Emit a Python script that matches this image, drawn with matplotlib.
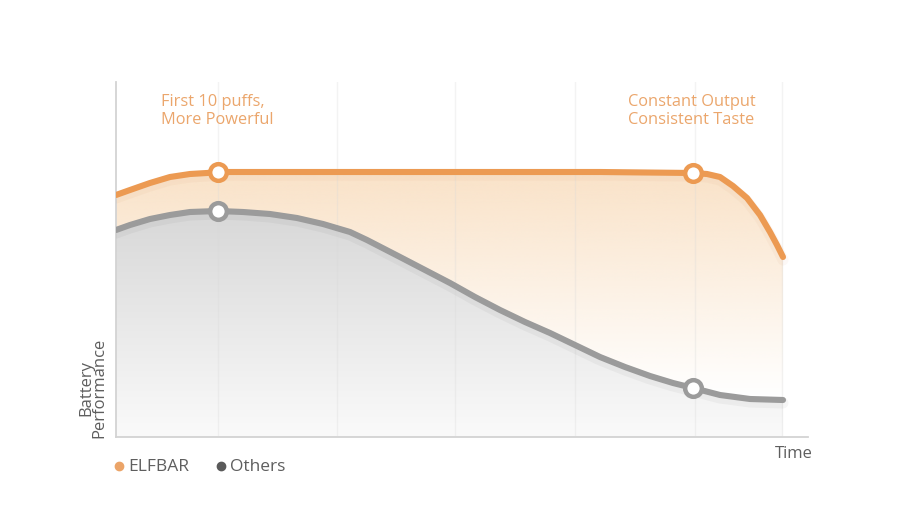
import numpy as np
import matplotlib
matplotlib.use("Agg")
import matplotlib.pyplot as plt
from matplotlib.colors import to_rgb

plt.rcParams["font.family"] = ["Open Sans", "DejaVu Sans"]

# time axis (arbitrary units) and performance readings
elfbar_t = [0, 14, 34, 54, 74, 91, 102, 184, 284, 384, 484, 577, 591, 604,
            617, 631, 644, 654, 661, 667]
elfbar_p = [242, 247, 254, 260, 263, 264, 265, 265, 265, 265, 265, 264, 263,
            260, 251, 239, 222, 205, 192, 180]
others_t = [0, 14, 34, 54, 74, 102, 127, 154, 181, 207, 234, 251, 284, 309,
            334, 359, 384, 409, 434, 459, 484, 509, 534, 557, 577, 604, 634, 667]
others_p = [207, 212, 218, 222, 225, 226, 225, 223, 219, 213, 205, 197, 180,
            167, 154, 140, 127, 115, 104, 92, 80, 70, 61, 54, 49, 42, 38, 37]

# highlighted points
elfbar_mark_t = [102, 577]
elfbar_mark_p = [265, 264]
others_mark_t = [102, 577]
others_mark_p = [226, 49]

grid_t = [102, 221, 339, 459, 579, 666]

notes = ["First 10 puffs,\nMore Powerful", "Constant Output\nConsistent Taste"]
note_t = [45, 512]

ORANGE = "#ec9a52"
GREY = "#9b9b9b"
NOTE = "#eba66c"
TXT = "#5e5e5e"

fig = plt.figure(figsize=(9.09, 5.26), dpi=100)
ax = fig.add_axes([116 / 909, 89 / 526, 692 / 909, 355 / 526])
ax.set_xlim(0, 692)
ax.set_ylim(0, 355)


def gradient_fill(t, p, top_rgba, bot_rgba, y0, y1, z):
    poly = ax.fill_between(t, 0, p, color="none", lw=0)
    g = np.linspace(0, 1, 256)[:, None]
    top = np.array(top_rgba)
    bot = np.array(bot_rgba)
    img = bot + (top - bot) * g
    img = img[:, None, :].repeat(2, axis=1)
    im = ax.imshow(img, extent=[0, 692, y0, y1], origin="lower",
                   aspect="auto", zorder=z, interpolation="bicubic")
    im.set_clip_path(poly.get_paths()[0], transform=ax.transData)


o = to_rgb("#f8d8b4")
gradient_fill(elfbar_t, elfbar_p, (*o, 0.75), (*o, 0.0), 40, 270, 1)
gradient_fill(others_t, others_p, (*to_rgb("#d7d7d7"), 1.0),
              (*to_rgb("#fafafa"), 1.0), 0, 230, 2)

for g in grid_t:
    ax.axvline(g, color="#d8d8d8", lw=1, alpha=0.3, zorder=3)

# soft shadows under the lines
ax.plot(others_t, [v - 3 for v in others_p], color="#000000", lw=8,
        alpha=0.035, solid_capstyle="round", zorder=3)
ax.plot(elfbar_t, [v - 3 for v in elfbar_p], color="#c0601a", lw=8,
        alpha=0.04, solid_capstyle="round", zorder=3)

ax.plot(others_t, others_p, color=GREY, lw=4.4, solid_capstyle="round",
        solid_joinstyle="round", zorder=4)
ax.plot(elfbar_t, elfbar_p, color=ORANGE, lw=4.4, solid_capstyle="round",
        solid_joinstyle="round", zorder=5)
ax.plot(others_mark_t, others_mark_p, "o", ms=12, mfc="white", mec=GREY,
        mew=3.2, zorder=6)
ax.plot(elfbar_mark_t, elfbar_mark_p, "o", ms=12, mfc="white", mec=ORANGE,
        mew=3.2, zorder=6)

for txt, t in zip(notes, note_t):
    ax.text(t, 343, txt, color=NOTE, fontsize=11.8, va="top", ha="left",
            linespacing=1.2, zorder=7)

for side in ["top", "right"]:
    ax.spines[side].set_visible(False)
for side in ["left", "bottom"]:
    ax.spines[side].set_color("#d3d3d3")
    ax.spines[side].set_linewidth(1.3)
ax.set_xticks([])
ax.set_yticks([])

fig.text(93 / 909, 1 - 438 / 526, "Battery\nPerformance", rotation=90,
         ha="center", va="bottom", color=TXT, fontsize=12, linespacing=0.8)
fig.text(813 / 909, 1 - 454 / 526, "Time", ha="right", va="center",
         color=TXT, fontsize=12)

# legend row
legend_labels = ["ELFBAR", "Others"]
legend_colors = ["#eba468", "#5a5a5a"]
legend_x = [119, 221]
for lab, c, px in zip(legend_labels, legend_colors, legend_x):
    fig.lines.append(plt.Line2D([px / 909], [1 - 466 / 526], marker="o", ms=6,
                                color=c, lw=0, transform=fig.transFigure))
    fig.text((px + 9) / 909, 1 - 467 / 526, lab, ha="left", va="center",
             color=TXT, fontsize=12.5)

fig.savefig("out.png", dpi=100, facecolor="white")
